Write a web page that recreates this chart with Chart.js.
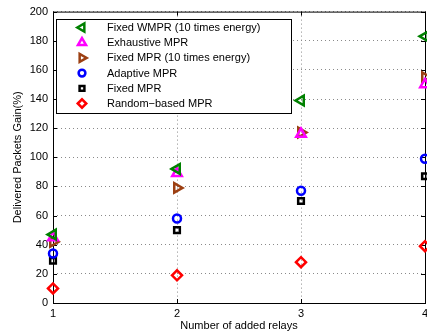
<!DOCTYPE html>
<html>
<head>
<meta charset="utf-8">
<script src="https://cdn.jsdelivr.net/npm/chart.js@4.4.1/dist/chart.umd.min.js"></script>
<style>
  html, body { margin: 0; padding: 0; background: #fff; overflow: hidden; }
  #wrap { width: 445px; height: 334px; }
</style>
</head>
<body>
<div id="wrap"><canvas id="c" width="445" height="334"></canvas></div>
<script>
// ── Data ──────────────────────────────────────────────────────────────────────
const relays      = [1, 2, 3, 4];
const fixedWmpr10 = [47, 92, 139, 183];
const exhaustive  = [45, 89, 116, 150];
const fixedMpr10  = [42, 79, 117, 155];
const adaptive    = [34, 58, 77, 99];
const fixedMpr    = [29, 50, 70, 87];
const randomMpr   = [10, 19, 28, 39];
const yTicks      = [0, 20, 40, 60, 80, 100, 120, 140, 160, 180, 200];

const FONT = "'Liberation Sans', Arial, Helvetica, sans-serif";

function series(label, values, color, style, rotation, radius) {
  return {
    label,
    data: values.map((v, i) => ({ x: relays[i], y: v })),
    showLine: false,
    pointStyle: style,
    rotation: rotation,
    radius: radius,
    borderColor: color,
    backgroundColor: "rgba(0,0,0,0)",
    borderWidth: 2.5,
    clip: false,
  };
}

const datasets = [
  series("Fixed WMPR (10 times energy)", fixedWmpr10, "#008000", "triangle", -90, 5.5),
  series("Exhaustive MPR",               exhaustive,  "#ff00ff", "triangle", 0,   5.5),
  series("Fixed MPR (10 times energy)",  fixedMpr10,  "#9c3f12", "triangle", 90,  5.5),
  series("Adaptive MPR",                 adaptive,    "#0000ff", "circle",   0,   4),
  series("Fixed MPR",                    fixedMpr,    "#000000", "rect",     0,   4),
  series("Random-based MPR",             randomMpr,   "#ff0000", "rectRot",  0,   5),
];

// ── Frame, inward ticks and legend box (MATLAB look) ─────────────────────────
const framePlugin = {
  id: "frame",
  beforeDatasetsDraw(chart) {
    const { ctx, chartArea: a, scales } = chart;
    ctx.save();
    ctx.strokeStyle = "#000";
    ctx.lineWidth = 1;
    ctx.strokeRect(a.left + 0.5, a.top + 0.5, a.right - a.left, a.bottom - a.top);
    ctx.beginPath();
    yTicks.forEach(t => {
      const y = Math.round(scales.y.getPixelForValue(t)) + 0.5;
      ctx.moveTo(a.left, y); ctx.lineTo(a.left + 4, y);
      ctx.moveTo(a.right, y); ctx.lineTo(a.right - 4, y);
    });
    relays.forEach(t => {
      const x = Math.round(scales.x.getPixelForValue(t)) + 0.5;
      ctx.moveTo(x, a.bottom); ctx.lineTo(x, a.bottom - 4);
      ctx.moveTo(x, a.top); ctx.lineTo(x, a.top + 4);
    });
    ctx.stroke();
    ctx.restore();
  },
  afterDatasetsDraw(chart) {
    const { ctx } = chart;
    const x0 = 56, y0 = 19, w = 235, h = 94;
    ctx.save();
    ctx.fillStyle = "#fff";
    ctx.fillRect(x0, y0, w, h);
    ctx.strokeStyle = "#000";
    ctx.lineWidth = 1;
    ctx.strokeRect(x0 + 0.5, y0 + 0.5, w, h);
    ctx.font = "11px " + FONT;
    ctx.textBaseline = "middle";
    chart.data.datasets.forEach((ds, i) => {
      const y = 27.5 + i * 15.2;
      ctx.strokeStyle = ds.borderColor;
      ctx.fillStyle = "rgba(0,0,0,0)";
      ctx.lineWidth = ds.borderWidth;
      Chart.helpers.drawPoint(ctx, {
        pointStyle: ds.pointStyle,
        rotation: ds.rotation,
        radius: ds.radius * 0.85,
        borderWidth: ds.borderWidth,
      }, 82, y);
      ctx.fillStyle = "#000";
      ctx.fillText(ds.label.replace("-", "\u2212"), 107, y + 0.5);
    });
    ctx.restore();
  },
};

const gridOpts = { color: "#8a8a8a", drawTicks: false, lineWidth: 1 };
// dotted grid lines (v4 keeps the dash under "border")
const borderOpts = { display: false, dash: [1, 3] };

new Chart(document.getElementById("c"), {
  type: "scatter",
  data: { datasets },
  plugins: [framePlugin],
  options: {
    responsive: false,
    animation: false,
    events: [],
    layout: { padding: { top: 10, right: 20, left: 0, bottom: 0 } },
    plugins: { legend: { display: false }, tooltip: { enabled: false } },
    scales: {
      x: {
        type: "linear",
        min: 1, max: 4,
        afterBuildTicks: s => { s.ticks = relays.map(v => ({ value: v })); },
        afterFit: s => { s.height = 31; },
        border: borderOpts,
        grid: gridOpts,
        ticks: { color: "#000", padding: 4, font: { family: FONT, size: 11 } },
        title: {
          display: true, text: "Number of added relays", color: "#000",
          font: { family: FONT, size: 11 }, padding: { top: 0, bottom: 1 },
        },
      },
      y: {
        min: 0, max: 200,
        afterBuildTicks: s => { s.ticks = yTicks.map(v => ({ value: v })); },
        afterFit: s => { s.width = 53; },
        border: borderOpts,
        grid: gridOpts,
        ticks: { color: "#000", padding: 5, font: { family: FONT, size: 11 } },
        title: {
          display: true, text: "Delivered Packets Gain(%)", color: "#000",
          font: { family: FONT, size: 11 }, padding: { top: 11, bottom: 0 },
        },
      },
    },
  },
});
</script>
</body>
</html>
